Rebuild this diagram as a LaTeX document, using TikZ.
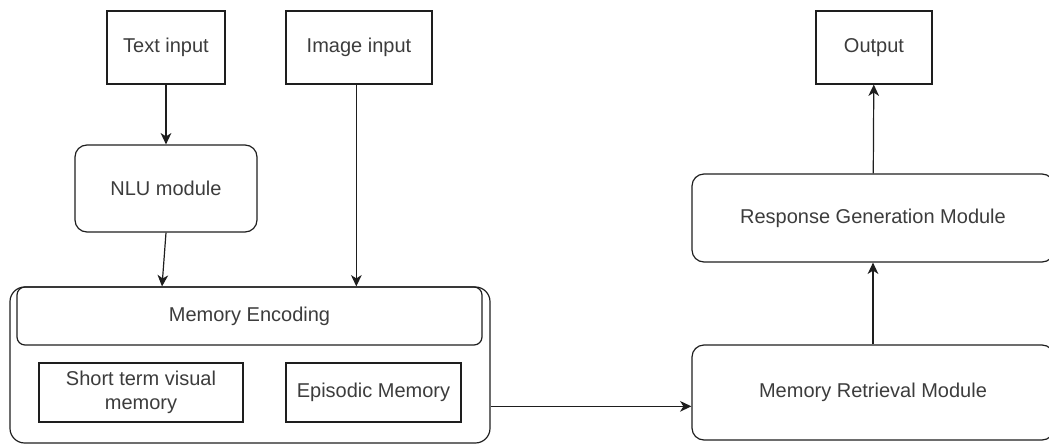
\documentclass[tikz,border=0pt]{standalone}
\usepackage{fontspec}
\setmainfont{Liberation Sans}
\usetikzlibrary{positioning, arrows.meta, calc}
\definecolor{LineGray}{RGB}{30,30,30}
\definecolor{TextGray}{RGB}{60,60,60}

\begin{document}
\begin{tikzpicture}[x=0.75pt, y=-0.75pt,
  box/.style={draw=LineGray, line width=0.9pt, text=TextGray, font=\fontsize{15}{18}\selectfont, align=center, inner sep=0pt},
  rbox/.style={box, rounded corners=9pt},
  arr/.style={-{Stealth[length=8.5pt, width=8pt, inset=2.5pt]}, LineGray, line width=0.9pt}]
\useasboundingbox (0,0) rectangle (1049,446);
% inputs and output
\node[box, minimum width=88.5pt, minimum height=54.75pt] (txtin) at (166,47.5) {Text input};
\node[box, minimum width=109.5pt, minimum height=54.75pt] (imgin) at (359,47.5) {Image input};
\node[box, minimum width=87pt, minimum height=54.75pt] (out) at (874,47.5) {Output};
% left column
\node[rbox, minimum width=136.5pt, minimum height=65.25pt] (nlu) at (166,188.5) {NLU module};
\node[rbox, rounded corners=11pt, minimum width=360pt, minimum height=117pt] (memblk) at (250,365) {};
\node[rbox, rounded corners=6pt, minimum width=348.75pt, minimum height=43.5pt] (memenc) at (249.5,316) {Memory Encoding};
\node[box, minimum width=153pt, minimum height=44.25pt] (stvm) at (141,392.5) {Short term visual\\memory};
\node[box, minimum width=131.25pt, minimum height=44.25pt] (epi) at (373.5,392.5) {Episodic Memory};
% right column
\node[rbox, minimum width=271.5pt, minimum height=66pt] (resp) at (873,218) {Response Generation Module};
\node[rbox, minimum width=271.5pt, minimum height=71.25pt] (retr) at (873,392.5) {Memory Retrieval Module};
% connectors
\draw[arr] (txtin) -- (nlu);
\draw[arr] (nlu.south) -- ([xshift=-3pt]nlu.south |- memenc.north);
\draw[arr] ([xshift=-2pt]imgin.south) -- ([xshift=-2pt]imgin.south |- memenc.north);
\draw[arr] ([yshift=-31pt]memblk.east) -- ([yshift=-31pt]memblk.east -| retr.west);
\draw[arr] (retr) -- (resp);
\draw[arr] (resp) -- (out);
\end{tikzpicture}
\end{document}
